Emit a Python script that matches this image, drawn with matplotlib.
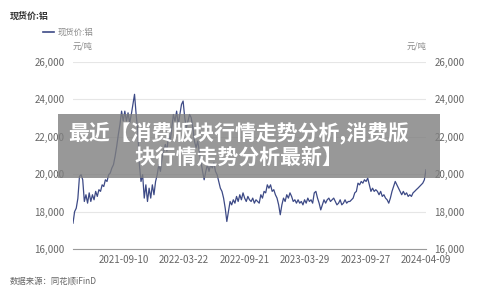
import numpy as np
import matplotlib
matplotlib.use("Agg")
import matplotlib.pyplot as plt
from matplotlib.patches import Rectangle

plt.rcParams['font.family'] = ['Noto Sans CJK SC', 'DejaVu Sans']

# 现货价:铝 (元/吨) from left to right
prices = [
    17380, 18000, 18180, 18700, 19880, 19970, 19700, 18540, 18900, 18450,
    19000, 18540, 18900, 18630, 19080, 18810, 19170, 19080, 19430, 19340,
    19700, 19610, 19970, 20060, 20330, 20510, 20960, 21500, 22120, 22660,
    23370, 22840, 23370, 22840, 23280, 22750, 23190, 23730, 24270, 23190,
    22300, 20510, 19610, 19970, 18720, 19430, 18540, 19250, 18720, 19430,
    18900, 19610, 19970, 20510, 20150, 20870, 21230, 21590, 21230, 22120,
    21770, 22480, 23190, 22840, 23370, 22660, 23190, 23730, 23910, 23020,
    22480, 22840, 23190, 23020, 22480, 21770, 21410, 21770, 21230, 20690,
    20150, 19700, 20150, 20510, 20150, 20510, 20330, 20600, 20150, 19970,
    19610, 19250, 19080, 18720, 18180, 17470, 18000, 18540, 18360, 18630,
    18450, 18810, 18540, 18900, 18630, 19000, 18720, 18540, 18810, 18630,
    18540, 18720, 18450, 18630, 18540, 18450, 18900, 18720, 19080, 19000,
    19430, 19250, 19430, 19080, 19170, 18900, 18720, 18360, 17830, 18360,
    18720, 18540, 18900, 18720, 19000, 18810, 18540, 18630, 18450, 18630,
    18450, 18540, 18360, 18630, 18450, 18720, 18540, 18630, 18450, 19000,
    19080, 18720, 18450, 18090, 18360, 18630, 18450, 18630, 18720, 18540,
    18630, 18720, 18540, 18360, 18450, 18630, 18360, 18450, 18630, 18450,
    18540, 18540, 18630, 18720, 19000, 19080, 19520, 19430, 19610, 19520,
    19700, 19610, 19790, 19430, 19080, 19250, 19080, 19170, 19080, 18900,
    19080, 18810, 18900, 18720, 18630, 18450, 18720, 19080, 19340, 19610,
    19430, 19250, 19080, 18900, 19080, 18900, 19000, 18810, 18900, 18810,
    19000, 19080, 19170, 19250, 19340, 19430, 19520, 19700, 20240,
]
date_labels = ["2021-09-10", "2022-03-22", "2022-09-21", "2023-03-29", "2023-09-27", "2024-04-09"]
date_frac = [0.144, 0.315, 0.486, 0.657, 0.828, 1.0]
y_ticks = [16000, 18000, 20000, 22000, 24000, 26000]

fig = plt.figure(figsize=(5, 2.95), dpi=100)
ax = fig.add_axes([0.146, 0.156, 0.706, 0.634])

x = np.arange(len(prices))
ax.plot(x, prices, color='#3d4a86', lw=0.9)

ax.set_xlim(0, len(prices) - 1)
ax.set_ylim(16000, 26000)
ax.set_yticks(y_ticks)
ax.set_yticklabels([f"{v:,}" for v in y_ticks])
ax.set_xticks([f * (len(prices) - 1) for f in date_frac])
ax.set_xticklabels(date_labels)
ax.grid(axis='y', color='#e6e6e6', lw=0.8)
for s in ['top', 'right', 'left']:
    ax.spines[s].set_visible(False)
ax.spines['bottom'].set_color('#9a9a9a')
ax.spines['bottom'].set_linewidth(0.8)
ax.tick_params(axis='both', length=0, labelsize=7, colors='#666666', pad=6)
ax.tick_params(axis='x', pad=4)

ax2 = ax.twinx()
ax2.set_ylim(16000, 26000)
ax2.set_yticks(y_ticks)
ax2.set_yticklabels([f"{v:,}" for v in y_ticks])
for s in ['top', 'right', 'left', 'bottom']:
    ax2.spines[s].set_visible(False)
ax2.tick_params(axis='y', length=0, labelsize=7, colors='#666666', pad=6)

# titles and notes
fig.text(0.02, 0.945, "现货价:铝", fontsize=6.5, color='#333333', weight='bold', va='center')
fig.add_artist(plt.Line2D([0.086, 0.108], [0.892, 0.892], color='#3d4a86', lw=1.2))
fig.text(0.116, 0.892, "现货价:铝", fontsize=6, color='#888888', va='center')
fig.text(0.166, 0.845, "元/吨", fontsize=6, color='#888888', va='center', ha='center')
fig.text(0.834, 0.845, "元/吨", fontsize=6, color='#888888', va='center', ha='center')
fig.text(0.02, 0.045, "数据来源：同花顺iFinD", fontsize=6, color='#666666', va='center')

# grey banner with headline
fig.add_artist(Rectangle((0.116, 0.397), 0.764, 0.217, transform=fig.transFigure,
                         facecolor='#7f7f7f', alpha=0.8, edgecolor='none'))
fig.text(0.478, 0.551, "最近【消费版块行情走势分析,消费版", fontsize=15, color='white',
         weight='heavy', ha='center', va='center')
fig.text(0.478, 0.466, "块行情走势分析最新】", fontsize=15, color='white',
         weight='heavy', ha='center', va='center')

fig.savefig("out.png", dpi=100)
